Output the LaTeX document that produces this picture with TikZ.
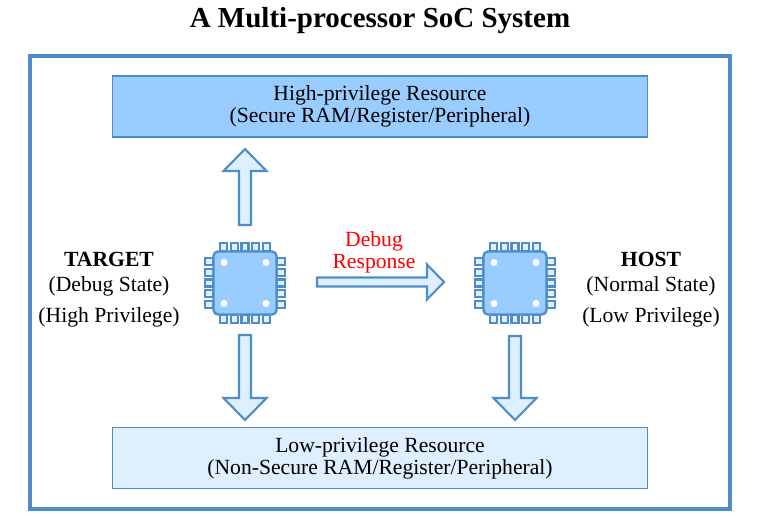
\documentclass[tikz,border=0pt]{standalone}
\usepackage{fontspec}
\setmainfont{Liberation Serif}
\usetikzlibrary{calc,positioning}
\definecolor{lineblue}{HTML}{4F8DC9}
\definecolor{deepfill}{HTML}{99CCFF}
\definecolor{palefill}{HTML}{DEEFFF}
\tikzset{
  resbox/.style={draw=lineblue,line width=0.9pt,minimum width=10.7cm,minimum height=1.22cm,align=center,
    font=\fontsize{12.3}{12.4}\selectfont},
  sidetext/.style={align=center,font=\fontsize{12.3}{14.7}\selectfont},
  blockarrow/.style={draw=lineblue,fill=palefill,line width=1.2pt,line join=miter},
  chippin/.style={draw=lineblue,fill=palefill,line width=1.25pt},
  chipbody/.style={draw=lineblue,fill=deepfill,line width=1.3pt,rounded corners=2.5pt,minimum size=1.26cm,inner sep=0pt}
}
% chip: name, position
\newcommand{\chip}[2]{
  \foreach \d in {-0.43,-0.215,0,0.215,0.43} {
    \draw[chippin] ($(#2)+(\d-0.07,0.63)$) rectangle ($(#2)+(\d+0.07,0.8)$);
    \draw[chippin] ($(#2)+(\d-0.07,-0.63)$) rectangle ($(#2)+(\d+0.07,-0.8)$);
    \draw[chippin] ($(#2)+(-0.63,\d-0.07)$) rectangle ($(#2)+(-0.8,\d+0.07)$);
    \draw[chippin] ($(#2)+(0.63,\d-0.07)$) rectangle ($(#2)+(0.8,\d+0.07)$);
  }
  \node[chipbody] (#1) at (#2) {};
  \foreach \sx in {-1,1} \foreach \sy in {-1,1}
    \fill[white] ($(#1)+(\sx*0.42,\sy*0.41)$) circle (0.07);
}
% block arrow: from, to, half shaft, half head, head length
\newcommand{\bigarrow}[5]{
  \coordinate (hb) at ($(#2)!#5!(#1)$);
  \draw[blockarrow] ($(#1)!#3!90:(#2)$) -- ($(hb)!#3!90:(#2)$) -- ($(hb)!#4!90:(#2)$) -- (#2)
    -- ($(hb)!#4!-90:(#2)$) -- ($(hb)!#3!-90:(#2)$) -- ($(#1)!#3!-90:(#2)$) -- cycle;
}
\begin{document}
\begin{tikzpicture}
  \useasboundingbox (0,0) rectangle (15.28,10.32);
  \node[font=\fontsize{16.5}{18}\selectfont\bfseries] (title) at (7.6,9.9) {A Multi-processor SoC System};
  \draw[lineblue,line width=2.3pt] (0.6,0.14) rectangle (14.6,9.2);

  \node[resbox,fill=deepfill] (highres) at (7.6,8.19) {High-privilege Resource\\(Secure RAM/Register/Peripheral)};
  \node[resbox,fill=palefill] (lowres) at (7.6,1.16) {Low-privilege Resource\\(Non-Secure RAM/Register/Peripheral)};

  \chip{target}{4.9,4.66}
  \chip{host}{10.3,4.66}

  \node[sidetext] (targetlabel) at (2.18,4.53) {\textbf{TARGET}\\(Debug State)\\[2.8pt](High Privilege)};
  \node[sidetext] (hostlabel) at (13.02,4.53) {\textbf{HOST}\\(Normal State)\\[2.8pt](Low Privilege)};
  \node[resbox,draw=none,minimum width=0pt,minimum height=0pt,inner sep=0pt,text=red] (debuglabel) at (7.48,5.28) {Debug\\Response};

  \coordinate (upfrom) at (4.9,5.82);
  \coordinate (upto) at (4.9,7.34);
  \coordinate (downfrom) at (4.9,3.62);
  \coordinate (downto) at (4.9,1.92);
  \coordinate (hostfrom) at (10.3,3.6);
  \coordinate (hostto) at (10.3,1.92);
  \coordinate (acrossfrom) at (6.34,4.68);
  \coordinate (acrossto) at (8.88,4.68);

  \bigarrow{upfrom}{upto}{0.12cm}{0.43cm}{0.44cm}
  \bigarrow{downfrom}{downto}{0.12cm}{0.43cm}{0.44cm}
  \bigarrow{hostfrom}{hostto}{0.12cm}{0.43cm}{0.44cm}
  \bigarrow{acrossfrom}{acrossto}{0.09cm}{0.35cm}{0.34cm}
\end{tikzpicture}
\end{document}
